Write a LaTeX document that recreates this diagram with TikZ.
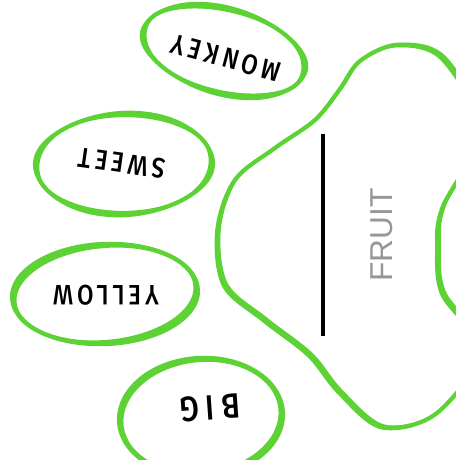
\documentclass[tikz,border=0pt]{standalone}
\usepackage{fontspec}
\newfontfamily\wordfont[LetterSpace=14, FakeStretch=0.85]{Fira Sans Medium}
\newfontfamily\labelfont{Liberation Sans}
\definecolor{pawgreen}{RGB}{92,210,52}
\definecolor{labelgray}{RGB}{150,150,150}
\tikzset{
    brush/.style={draw=pawgreen, line width=1.3pt},
    brushcore/.style={draw=pawgreen, line width=2.4pt},
    toetext/.style={font=\wordfont\fontsize{16}{18}\selectfont, text=black},
}
\begin{document}
\begin{tikzpicture}
    \useasboundingbox (0,0) rectangle (9.12,9.2);
    \clip (0,0) rectangle (9.12,9.2);
    % toes
    \foreach \d/\t in {0/0, 0.04/1.5, -0.04/-1.5} {
        \draw [brush] (4.48,8.18) ellipse [x radius=1.66+\d, y radius=0.84-\d, rotate=-15+\t];
        \draw [brush] (2.48,5.92) ellipse [x radius=1.76-\d, y radius=1.0+\d, rotate=2+\t];
        \draw [brush] (2.1,3.32) ellipse [x radius=1.84+\d, y radius=0.98+\d, rotate=4-\t];
        \draw [brush] (4.02,0.86) ellipse [x radius=1.62-\d, y radius=1.16-\d, rotate=5+\t];
    }
    \draw [brushcore] (4.48,8.18) ellipse [x radius=1.66, y radius=0.84, rotate=-15];
    \draw [brushcore] (2.48,5.92) ellipse [x radius=1.76, y radius=1.0, rotate=2];
    \draw [brushcore] (2.1,3.32) ellipse [x radius=1.84, y radius=0.98, rotate=4];
    \draw [brushcore] (4.02,0.86) ellipse [x radius=1.62, y radius=1.16, rotate=5];
    \node [toetext, rotate=165] (monkey) at (4.52,8.04) {MONKEY};
    \node [toetext, rotate=172] (sweet) at (2.44,5.94) {SWEET};
    \node [toetext, rotate=180] (yellow) at (2.12,3.3) {YELLOW};
    \node [toetext, rotate=184, font=\wordfont\addfontfeature{LetterSpace=20}\fontsize{20}{22}\selectfont] (big) at (4.2,1.04) {BIG};
    % pad
    \foreach \s in {(0,0), (0.035,0.025), (-0.035,-0.025)} {
        \draw [brush, shift={\s}] plot [smooth cycle, tension=0.55] coordinates {
            (7.94,8.3) (7.2,7.98) (6.8,7.42) (6.3,6.8) (5.5,6.24) (4.7,5.6)
            (4.36,4.6) (4.5,3.5) (5.3,2.8) (6.2,2.1) (6.8,1.36) (7.66,0.66)
            (8.74,0.94) (9.6,2.2) (8.86,3.34) (8.76,4.26) (8.86,5.06)
            (9.6,6.6) (8.86,8.04)};
    }
    \draw [brushcore] plot [smooth cycle, tension=0.55] coordinates {
        (7.94,8.3) (7.2,7.98) (6.8,7.42) (6.3,6.8) (5.5,6.24) (4.7,5.6)
        (4.36,4.6) (4.5,3.5) (5.3,2.8) (6.2,2.1) (6.8,1.36) (7.66,0.66)
        (8.74,0.94) (9.6,2.2) (8.86,3.34) (8.76,4.26) (8.86,5.06)
        (9.6,6.6) (8.86,8.04)};
    \coordinate (bar top) at (6.46,6.52);
    \coordinate (bar bottom) at (6.46,2.48);
    \draw [line width=2.2pt] (bar top) -- (bar bottom);
    \node [rotate=90, text=labelgray, font=\labelfont\fontsize{18}{20}\selectfont] (fruit) at (7.64,4.5) {FRUIT};
\end{tikzpicture}
\end{document}
